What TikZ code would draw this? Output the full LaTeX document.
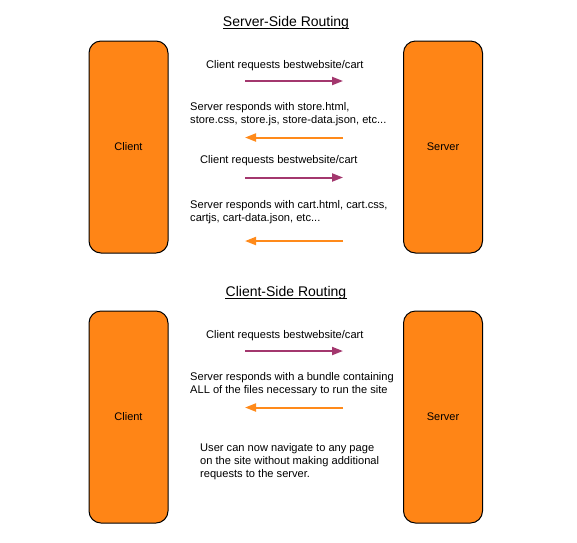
\documentclass[tikz,border=0pt]{standalone}
\usepackage{fontspec}
\setmainfont{Liberation Sans}
\usetikzlibrary{arrows.meta}
\definecolor{boxorange}{HTML}{FF8516}
\definecolor{arrorange}{HTML}{FF8A1A}
\definecolor{arrpurple}{HTML}{A3376E}
\tikzset{
  x=1pt, y=-1pt,
  box/.style={draw=black, line width=1pt, fill=boxorange, rounded corners=12pt,
    minimum width=79pt, minimum height=212pt, inner sep=0pt,
    font=\fontsize{11}{13}\selectfont},
  txt/.style={inner sep=0pt, anchor=base west, align=left,
    font=\fontsize{11.1}{13}\selectfont},
  ttl/.style={inner sep=0pt, anchor=base, font=\fontsize{14}{16}\selectfont},
  req/.style={draw=arrpurple, line width=2pt, -{Triangle[length=11pt,width=8pt]}},
  resp/.style={draw=arrorange, line width=2pt, -{Triangle[length=11pt,width=8pt]}},
  uline/.style={draw=black, line width=0.9pt}
}
\begin{document}
\begin{tikzpicture}
\useasboundingbox (0,0) rectangle (577,542);
\fill[white] (0,0) rectangle (577,542);

% ---------- Server-Side Routing ----------
\node[ttl] (t1) at (286,26) {Server-Side Routing};
\draw[uline] ([yshift=-2pt]t1.base west) -- ([yshift=-2pt]t1.base east);

\node[box] (c1) at (128.5,147) {Client};
\node[box] (s1) at (443,147) {Server};

% base anchor of multi-line nodes = baseline of the last line
\node[txt] (a1) at (206,68) {Client requests bestwebsite/cart};
\node[txt] (a2) at (190,123.5) {Server responds with store.html,\\store.css, store.js, store-data.json, etc...};
\node[txt] (a3) at (200,163) {Client requests bestwebsite/cart};
\node[txt] (a4) at (190,221) {Server responds with cart.html, cart.css,\\cartjs, cart-data.json, etc...};

\coordinate (p1l) at (245,81);    \coordinate (p1r) at (343,81);
\coordinate (p2l) at (245,137.5); \coordinate (p2r) at (343,137.5);
\coordinate (p3l) at (245,177.5); \coordinate (p3r) at (343,177.5);
\coordinate (p4l) at (245,241);   \coordinate (p4r) at (343,241);
\draw[req] (p1l) -- (p1r);
\draw[resp] (p2r) -- (p2l);
\draw[req] (p3l) -- (p3r);
\draw[resp] (p4r) -- (p4l);

% ---------- Client-Side Routing ----------
\node[ttl] (t2) at (286,296) {Client-Side Routing};
\draw[uline] ([yshift=-2pt]t2.base west) -- ([yshift=-2pt]t2.base east);

\node[box] (c2) at (128.5,417) {Client};
\node[box] (s2) at (443,417) {Server};

\node[txt] (b1) at (206,338) {Client requests bestwebsite/cart};
\node[txt] (b2) at (190,393.5) {Server responds with a bundle containing\\ALL of the files necessary to run the site};
\node[txt] (b3) at (200,477) {User can now navigate to any page\\on the site without making additional\\requests to the server.};

\coordinate (q1l) at (245,351); \coordinate (q1r) at (343,351);
\coordinate (q2l) at (245,407.5); \coordinate (q2r) at (343,407.5);
\draw[req] (q1l) -- (q1r);
\draw[resp] (q2r) -- (q2l);
\end{tikzpicture}
\end{document}
